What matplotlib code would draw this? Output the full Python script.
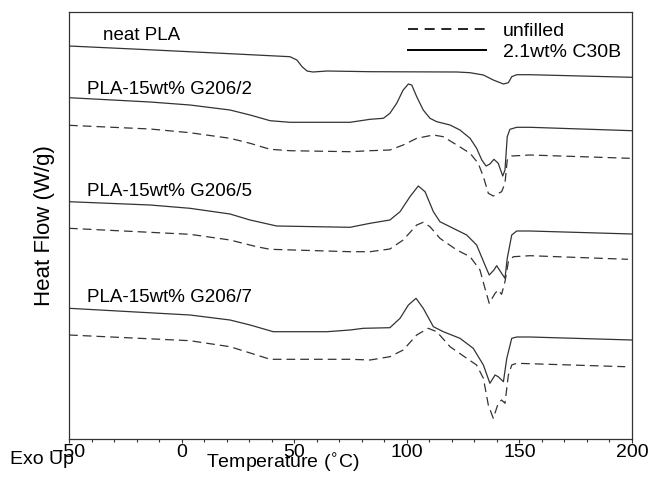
import numpy as np
import matplotlib
matplotlib.use("Agg")
import matplotlib.pyplot as plt
from matplotlib.lines import Line2D

plt.rcParams["font.family"] = ["Liberation Sans", "DejaVu Sans"]

# DSC traces (temperature in C, heat flow in arbitrary offset units)
neat_T = [-50, -14, 21.5, 48.1, 51.2, 53.5, 55.7, 58.3, 64.6, 83.7, 122.3, 128.1,
          134.0, 138.4, 142.9, 145.1, 146.6, 148.8, 154.7, 200]
neat_hf = [393, 389.2, 385.3, 382.3, 379, 372.3, 368, 367, 368, 367.3, 367, 366.3,
           364, 359, 355, 356.3, 362.3, 364.3, 364.3, 361.7]

g2_T = [-50, -14, 3.7, 21.5, 30.4, 39.3, 48.1, 74.8, 83.7, 89.6, 92.5, 95.5, 98.4,
        100.7, 102.2, 104.4, 107.3, 110.3, 113.3, 119.2, 123.6, 128.1, 131.0, 133.3,
        135.2, 136.9, 138.7, 140.6, 142.6, 143.6, 144.6, 145.8, 148.8, 154.7, 200]
g2_hf = [341.3, 337, 334, 329, 324, 318.3, 316.7, 316.7, 319.7, 320.7, 325.7, 335.7, 349,
         355, 354, 342.3, 329, 320.7, 317.3, 314, 309, 300.7, 290.7, 279,
         273, 275, 279.7, 275.7, 263, 269, 302.3, 309.7, 311.7, 311.7, 308.3]
g2u_T = [-50, -14, 3.7, 21.5, 30.4, 39.3, 48.1, 74.8, 83.7, 92.5, 98.4, 104.4, 111.8,
         116.2, 122.2, 128.1, 131.7, 134.0, 136.2, 138.4, 142.1, 143.6, 144.6, 146.6,
         154.7, 199]
g2u_hf = [313.7, 310, 306.3, 300.7, 295.7, 289.7, 288.3, 287.3, 288.3, 289, 294, 300.7, 304,
          302.3, 294, 285.7, 275.7, 262.3, 245.7, 243, 247.3, 255.7, 279, 283,
          284, 280.7]

g5_T = [-50, -14, 3.7, 21.5, 30.4, 42.2, 74.8, 83.7, 92.5, 97.0, 101.4, 105.1, 108.1,
        111.8, 114.7, 120.6, 126.6, 131.0, 134.7, 136.6, 138.7, 139.9, 142.1, 143.6,
        144.6, 146.6, 148.8, 154.7, 200]
g5_hf = [237.3, 234, 230.7, 225, 219, 213, 211.7, 215.7, 219, 227.3, 242.3, 253, 247.3,
         227.3, 217.3, 210.7, 204, 194, 174, 164, 169, 173.3, 165.7, 160.7,
         180.7, 204, 208, 208, 205]
g5u_T = [-50, 3.7, 21.5, 33.3, 39.3, 74.8, 83.7, 92.5, 98.4, 104.4, 107.3, 110.3, 114.7,
         122.2, 128.1, 132.5, 134.7, 136.6, 139.2, 140.6, 142.1, 143.6, 145.1, 147.3,
         154.7, 198.2]
g5u_hf = [210.7, 204.7, 199, 192.3, 189.7, 187.3, 187.3, 190, 199, 214, 216.7, 212.3, 200.7,
          189, 182.3, 169, 150.7, 135.7, 145.7, 149, 144.7, 157.3, 177.3, 182.3,
          183.3, 179.7]

g7_T = [-50, 3.7, 21.5, 30.4, 40.7, 64.6, 74.8, 80.7, 92.5, 97.0, 100.7, 104.1, 107.3,
        111.8, 116.2, 123.6, 129.5, 134.0, 136.9, 139.2, 140.6, 142.9, 144.4, 146.6,
        148.8, 154.7, 200]
g7_hf = [130.7, 124, 119, 114, 107.3, 107.3, 109, 110.7, 111.3, 120.7, 134, 140.7, 130.7,
         112.3, 107.3, 100.7, 90.7, 74, 55.7, 64, 62.3, 57.3, 80.7, 100.7,
         102, 102, 99]
g7u_T = [-50, 3.7, 21.5, 33.3, 39.3, 74.8, 83.7, 92.5, 98.4, 104.4, 109.5, 113.3, 119.2,
         126.6, 131.0, 134.0, 136.2, 138.4, 140.6, 142.1, 143.6, 145.1, 146.6, 148.8, 197]
g7u_hf = [104, 98.3, 92.3, 84, 79.7, 79.7, 79, 82.3, 89, 104, 110.7, 107.3, 92.3,
          80.7, 74, 60.7, 34, 20.7, 35.7, 39, 35.7, 64, 74, 75.7, 72.3]

labels = ["neat PLA", "PLA-15wt% G206/2", "PLA-15wt% G206/5", "PLA-15wt% G206/7"]
label_T = [-34.9, -42, -42, -42]
label_hf = [404, 349, 247.3, 141]

col = "#333333"
fig = plt.figure(figsize=(6.51, 4.82), dpi=100)
ax = fig.add_axes([69 / 651, 43 / 482, 563 / 651, 427 / 482])

for T, hf in [(neat_T, neat_hf), (g2_T, g2_hf), (g5_T, g5_hf), (g7_T, g7_hf)]:
    ax.plot(T, hf, color=col, lw=0.9, solid_joinstyle="round")
for T, hf in [(g2u_T, g2u_hf), (g5u_T, g5u_hf), (g7u_T, g7u_hf)]:
    ax.plot(T, hf, color=col, lw=0.9, dashes=(7, 4), dash_joinstyle="round")

for txt, t, h in zip(labels, label_T, label_hf):
    ax.text(t, h, txt, fontsize=13.5, ha="left", va="center", color="black")

handles = [Line2D([], [], color="black", lw=1.2, dashes=(6, 4)),
           Line2D([], [], color="black", lw=1.4)]
ax.legend(handles, ["unfilled", "2.1wt% C30B"], loc="upper left",
          bbox_to_anchor=(0.602, 0.975), frameon=False, fontsize=14,
          handlelength=4.0, handletextpad=0.9, labelspacing=0.15,
          borderpad=0, borderaxespad=0)

ax.set_xlim(-50, 200)
ax.set_ylim(0, 427)
ax.set_xticks(np.arange(-50, 201, 50))
ax.set_xticks(np.arange(-50, 201, 10), minor=True)
ax.set_yticks([])
ax.tick_params(axis="x", which="major", direction="out", length=3, width=0.8,
               labelsize=14, pad=0.5, color=col)
ax.tick_params(axis="x", which="minor", direction="out", length=2.2, width=0.8, color=col)
for s in ax.spines.values():
    s.set_color(col)
    s.set_linewidth(0.9)

ax.set_xlabel("Temperature ($^{\\circ}$C)", fontsize=14)
ax.xaxis.set_label_coords(0.38, -0.03)
ax.set_ylabel("Heat Flow (W/g)", fontsize=16, va="center")
ax.yaxis.set_label_coords(-0.044, 0.5)

fig.text(10 / 651, 1 - 460 / 482, "Exo Up", fontsize=14, ha="left", va="center")

fig.savefig("out.png", dpi=100)
